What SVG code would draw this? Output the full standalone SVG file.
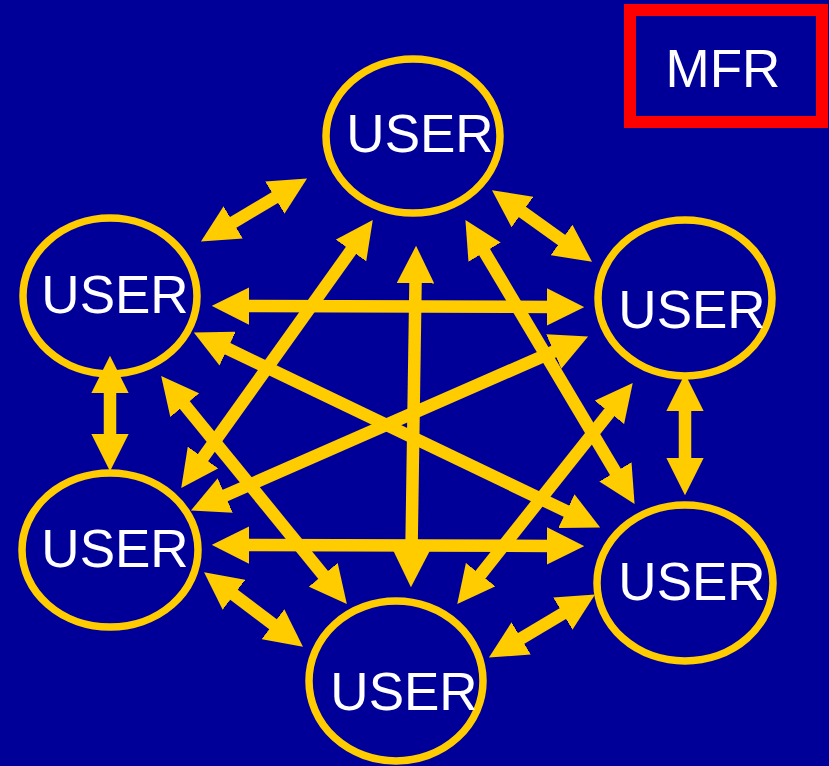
<svg xmlns="http://www.w3.org/2000/svg" width="829" height="766" viewBox="0 0 829 766">
<defs>
<style>
.node{fill:none;stroke:#FFCC00;stroke-width:7.5}
.lbl{font-family:"Liberation Sans",Arial,sans-serif;font-size:53px;fill:#FFFFFF;text-anchor:middle}
.conn line{stroke:#FFCC00;stroke-width:12.5;marker-start:url(#ah);marker-end:url(#ah)}
</style>
<marker id="ah" viewBox="0 0 3 3" markerWidth="3" markerHeight="3" refX="0.5" refY="1.5" orient="auto-start-reverse" markerUnits="strokeWidth">
<path d="M0,0 L3,1.5 L0,3 z" fill="#FFCC00"/>
</marker>
</defs>
<rect width="829" height="766" fill="#000099"/>
<g id="connectors" class="conn">
<line x1="280.2" y1="194.4" x2="227.8" y2="225.6"/>
<line x1="517.4" y1="208.4" x2="566.6" y2="243.6"/>
<line x1="685" y1="405" x2="685" y2="464"/>
<line x1="110" y1="387" x2="110" y2="440"/>
<line x1="229" y1="591" x2="278" y2="628"/>
<line x1="515.8" y1="641.6" x2="568.2" y2="610.4"/>
<line x1="243" y1="306" x2="553" y2="307"/>
<line x1="243" y1="545" x2="553" y2="546"/>
<line x1="415.6" y1="277" x2="411.4" y2="556"/>
<line x1="354.6" y1="245.4" x2="199.4" y2="462.6"/>
<line x1="481.4" y1="246.8" x2="618.6" y2="477.2"/>
<line x1="222" y1="346" x2="572" y2="513.9"/>
<line x1="180.9" y1="400.3" x2="327.1" y2="579.7"/>
<line x1="559.5" y1="349" x2="219.5" y2="498"/>
<line x1="613.3" y1="407.5" x2="476.7" y2="579.5"/>
</g>
<g id="mfr">
<rect x="630" y="10" width="192" height="112" fill="none" stroke="#FF0000" stroke-width="12"/>
<text class="lbl" x="723" y="87">MFR</text>
</g>
<g id="user-top">
<ellipse class="node" cx="413" cy="136" rx="87" ry="77"/>
<text class="lbl" x="420" y="152">USER</text>
</g>
<g id="user-left-upper">
<ellipse class="node" cx="110" cy="296" rx="87" ry="78"/>
<text class="lbl" x="115" y="313">USER</text>
</g>
<g id="user-right-upper">
<ellipse class="node" cx="685" cy="298" rx="87" ry="78"/>
<text class="lbl" x="692" y="328">USER</text>
</g>
<g id="user-left-lower">
<ellipse class="node" cx="110" cy="550" rx="88" ry="77"/>
<text class="lbl" x="115" y="567">USER</text>
</g>
<g id="user-right-lower">
<ellipse class="node" cx="685" cy="583" rx="88" ry="78"/>
<text class="lbl" x="692" y="600">USER</text>
</g>
<g id="user-bottom">
<ellipse class="node" cx="396" cy="681" rx="87" ry="80"/>
<text class="lbl" x="404" y="710">USER</text>
</g>
</svg>
